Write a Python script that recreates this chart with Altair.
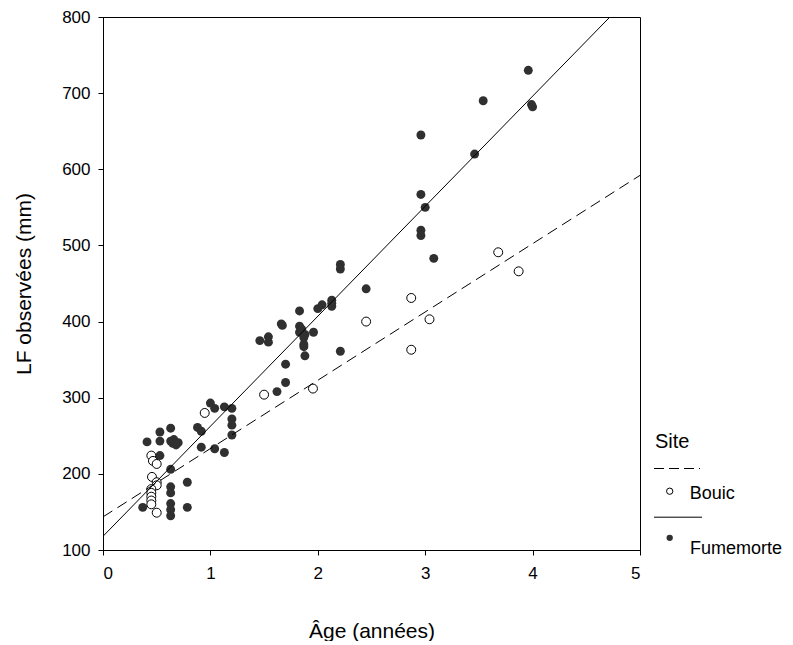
import altair as alt
import pandas as pd

# ---- data ----
fum_age = [3.96, 3.54, 3.99, 4.00, 2.96, 3.46, 2.96, 3.00, 2.96, 2.96, 3.08,
           2.21, 2.21, 2.45, 2.13, 2.13, 2.13, 2.04, 2.00, 1.83, 1.66, 1.67,
           1.83, 1.85, 1.83, 1.88, 1.96, 1.87, 1.87, 1.87, 1.88, 1.54, 1.54,
           1.46, 2.21, 1.70, 1.70, 1.62,
           1.00, 1.04, 1.13, 1.20, 1.20, 1.20, 1.20, 0.88, 0.915, 0.915, 1.04, 1.13,
           0.63, 0.53, 0.41, 0.53, 0.63, 0.65, 0.68, 0.66, 0.70, 0.53, 0.63,
           0.785, 0.63, 0.63, 0.63, 0.63, 0.63, 0.785, 0.37]
fum_lf = [730, 690, 685, 682, 645, 620, 567, 550, 520, 513, 483,
          475, 469, 443, 428, 424, 420, 422, 417, 414, 397, 395,
          394, 390, 386, 383, 386, 379, 370, 367, 355, 380, 373,
          375, 361, 344, 320, 308,
          293, 286, 288, 286, 272, 264, 251, 261, 256, 235, 233, 228,
          260, 255, 242, 243, 243, 240, 238, 245, 241, 224, 206,
          189, 183, 175, 161, 153, 145, 156, 156]

bou_age = [3.68, 3.87, 2.87, 2.45, 3.04, 2.87, 1.955, 1.50, 0.947,
           0.45, 0.465, 0.50, 0.456, 0.50, 0.50, 0.45, 0.45, 0.45, 0.45, 0.45, 0.50]
bou_lf = [491, 466, 431, 400, 403, 363, 312, 304, 280,
          224, 217, 213, 196, 189, 185, 180, 175, 170, 165, 160, 149]

# regression lines (intercept, slope)
fum_fit = (118.0, 144.5)
bou_fit = (143.5, 89.7)
fit_x = [0.0, 5.0]

FONT = "Liberation Sans"
W, H = 537, 533

fum = pd.DataFrame({"age": fum_age, "lf": fum_lf})
bou = pd.DataFrame({"age": bou_age, "lf": bou_lf})
fum_line = pd.DataFrame({"age": fit_x, "lf": [fum_fit[0] + fum_fit[1] * x for x in fit_x]})
bou_line = pd.DataFrame({"age": fit_x, "lf": [bou_fit[0] + bou_fit[1] * x for x in fit_x]})

xenc = alt.X("age:Q", scale=alt.Scale(domain=[0, 5], nice=False),
             axis=alt.Axis(title="Âge (années)", values=[0, 1, 2, 3, 4, 5], format="d",
                           grid=False, tickSize=5, labelPadding=10, titlePadding=39,
                           labelFontSize=17, titleFontSize=21))
yenc = alt.Y("lf:Q", scale=alt.Scale(domain=[100, 800], nice=False),
             axis=alt.Axis(title="LF observées (mm)", values=list(range(100, 801, 100)),
                           grid=False, tickSize=5, labelPadding=8, titlePadding=27,
                           labelFontSize=17, titleFontSize=21))

pts_f = alt.Chart(fum).mark_point(filled=True, shape="circle", size=80, color="#303030",
                                  opacity=1).encode(x=xenc, y=yenc)
pts_b = alt.Chart(bou).mark_point(shape="circle", size=80, fill="white", fillOpacity=1,
                                  stroke="black", strokeWidth=1, opacity=1).encode(x="age:Q", y="lf:Q")
line_f = alt.Chart(fum_line).mark_line(color="black", strokeWidth=1, clip=True).encode(x="age:Q", y="lf:Q")
line_b = alt.Chart(bou_line).mark_line(color="black", strokeWidth=1, strokeDash=[11, 6],
                                       clip=True).encode(x="age:Q", y="lf:Q")

one = pd.DataFrame({"k": [0]})
leg_title = alt.Chart(one).mark_text(text="Site", font=FONT, fontSize=20, align="left",
                                     baseline="alphabetic", color="black").encode(
    x=alt.value(552), y=alt.value(430.5))
leg_dash = alt.Chart(one).mark_rule(color="black", strokeWidth=1, strokeDash=[10, 5]).encode(
    x=alt.value(551), x2=alt.value(597), y=alt.value(451.5))
leg_open = alt.Chart(one).mark_point(shape="circle", size=40, fill="white", fillOpacity=1,
                                     stroke="black", strokeWidth=1, opacity=1).encode(
    x=alt.value(566.7), y=alt.value(474.2))
leg_bouic = alt.Chart(one).mark_text(text="Bouic", font=FONT, fontSize=18, align="left",
                                     baseline="alphabetic", color="black").encode(
    x=alt.value(586.7), y=alt.value(481.5))
leg_solid = alt.Chart(one).mark_rule(color="black", strokeWidth=1).encode(
    x=alt.value(551), x2=alt.value(599), y=alt.value(500.2))
leg_fill = alt.Chart(one).mark_point(filled=True, shape="circle", size=40, color="#303030",
                                     opacity=1).encode(x=alt.value(566.7), y=alt.value(520.8))
leg_fum = alt.Chart(one).mark_text(text="Fumemorte", font=FONT, fontSize=18, align="left",
                                   baseline="alphabetic", color="black").encode(
    x=alt.value(587), y=alt.value(536.8))

chart = alt.layer(
    pts_f, pts_b, line_f, line_b,
    leg_title, leg_dash, leg_open, leg_bouic, leg_solid, leg_fill, leg_fum
).properties(
    width=W, height=H,
    padding={"left": 5, "top": 0, "right": 0, "bottom": 0},
    background="white",
).configure_view(
    stroke="black", strokeWidth=1
).configure_axis(
    domainColor="black", tickColor="black", labelColor="black", titleColor="black",
    labelFont=FONT, titleFont=FONT, titleFontWeight="normal", domainWidth=1, tickWidth=1
)

chart.save("out.html", embed_options={"renderer": "svg", "actions": False})
